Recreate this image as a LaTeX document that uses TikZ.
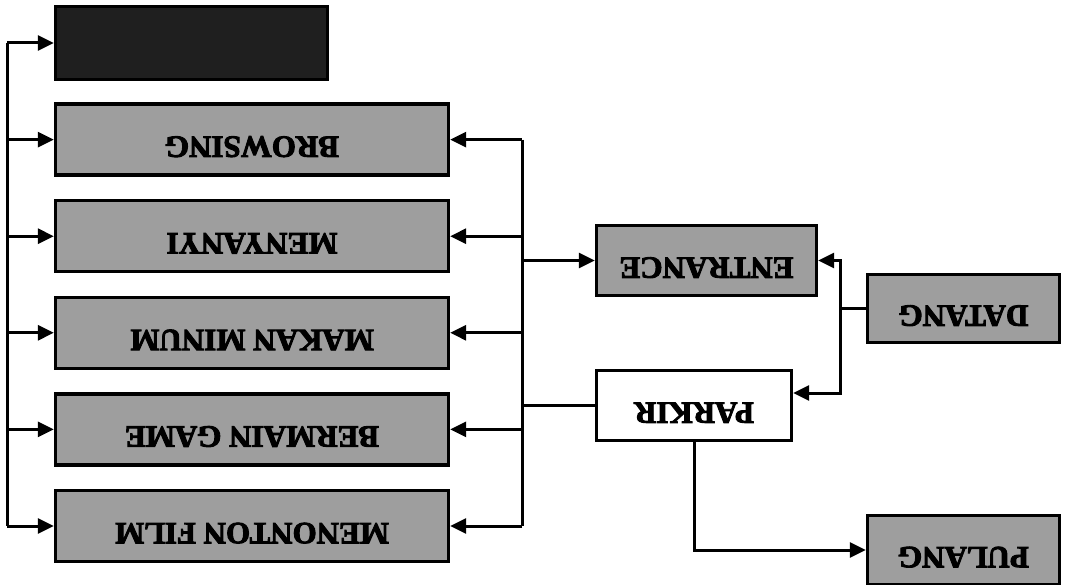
\documentclass[tikz,border=0pt]{standalone}
\usepackage{fontspec}
\setmainfont{Liberation Serif}
\newfontfamily\heavyfont{Liberation Serif Bold}[FakeBold=3]
\usetikzlibrary{arrows.meta}
\newcommand\flip[1]{\raisebox{3pt}[0pt][0pt]{\rotatebox{180}{#1}}}
\tikzset{
  box/.style={draw=black, line width=3.4pt, fill=black!38, inner sep=0pt,
    font=\heavyfont\fontsize{31}{31}\selectfont},
  bigbox/.style={box, minimum width=393pt, minimum height=71pt},
  darkbox/.style={box, fill=black!88, minimum width=272pt, minimum height=73pt},
  whitebox/.style={box, fill=white},
  conn/.style={line width=3pt, draw=black},
  arr/.style={conn, -{Triangle[length=16pt,width=15pt]}}
}
\begin{document}
\begin{tikzpicture}[x=1pt,y=-1pt]
\useasboundingbox (0,0) rectangle (1066,585);
% left column
\node[darkbox] (b0) at (191.5,43) {};
\node[bigbox] (b1) at (252,139.6) {\flip{BROWSING}};
\node[bigbox] (b2) at (252,236.2) {\flip{MENYANYI}};
\node[bigbox] (b3) at (252,332.8) {\flip{MAKAN MINUM}};
\node[bigbox] (b4) at (252,429.4) {\flip{BERMAIN GAME}};
\node[bigbox] (b5) at (252,526) {\flip{MENONTON FILM}};
% right part
\node[box, minimum width=220pt, minimum height=70pt] (en) at (706.5,260.5) {\flip{ENTRANCE}};
\node[box, minimum width=192pt, minimum height=68pt] (da) at (963.5,308.5) {\flip{DATANG}};
\node[whitebox, minimum width=195pt, minimum height=70pt] (pa) at (694,405.5) {\flip{PARKIR}};
\node[box, minimum width=192pt, minimum height=69pt] (pu) at (963.5,550) {\flip{PULANG}};
% left bus
\coordinate (Lt) at (7,43);
\coordinate (Lb) at (7,526);
\draw[conn] (Lt) -- (Lb);
\foreach \b in {b0,b1,b2,b3,b4,b5}{
  \draw[arr] (Lt |- \b.west) -- (\b.west);
}
% right bus
\coordinate (Rt) at (522,139.6);
\coordinate (Rb) at (522,526);
\draw[conn] (Rt) -- (Rb);
\foreach \b in {b1,b2,b3,b4,b5}{
  \draw[arr] (Rt |- \b.east) -- (\b.east);
}
\draw[arr] (Rt |- en.west) -- (en.west);
\draw[conn] (Rt |- pa.west) -- (pa.west);
% datang branch
\coordinate (D) at (840,308.5);
\draw[conn] (da.west) -- (D);
\draw[arr] (D) |- (en.east);
\draw[arr] (D) |- ([yshift=12.5pt]pa.east);
% pulang
\draw[arr] (pa.south) |- (pu.west);
\end{tikzpicture}
\end{document}
